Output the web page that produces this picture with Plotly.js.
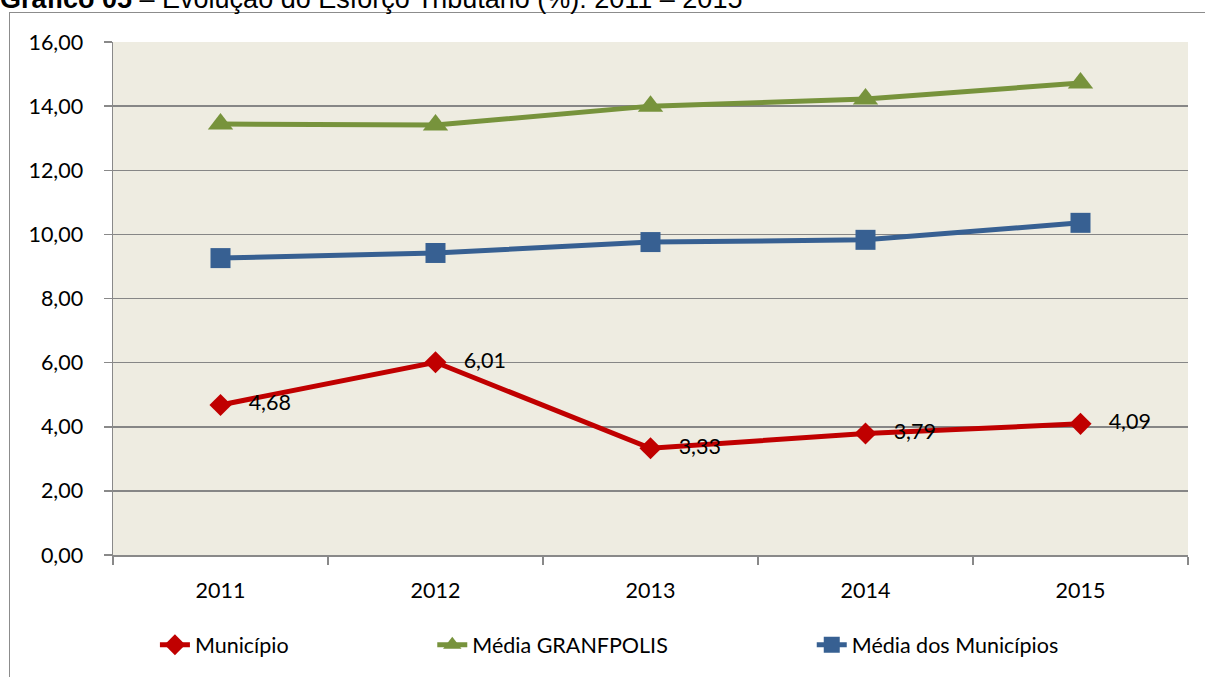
<!DOCTYPE html>
<html>
<head>
<meta charset="utf-8">
<script src="https://cdn.plot.ly/plotly-3.0.1.min.js"></script>
<style>
html,body{margin:0;padding:0;background:#fff;}
#wrap{position:relative;width:1205px;height:677px;overflow:hidden;}
#chart{position:absolute;left:0;top:0;width:1205px;height:677px;}
#frame{position:absolute;left:9px;top:12px;width:1220px;height:700px;border:1px solid #8c8c8c;pointer-events:none;}
</style>
</head>
<body>
<div id="wrap"><div id="frame"></div><div id="chart"></div></div>
<script>
const years = ['2011', '2012', '2013', '2014', '2015'];
const municipio = [4.68, 6.01, 3.33, 3.79, 4.09];
const mediaGranfpolis = [13.44, 13.41, 14.00, 14.22, 14.72];
const mediaMunicipios = [9.26, 9.42, 9.76, 9.83, 10.36];
const yTicks = [0, 2, 4, 6, 8, 10, 12, 14, 16];

const FONT = 'Lato, "Open Sans", sans-serif';
const FS = 21.5;

const traces = [
  {
    x: years, y: municipio, name: 'Município', type: 'scatter', mode: 'lines+markers+text',
    line: {color: '#C00000', width: 5},
    marker: {symbol: 'diamond', size: 17, color: '#C00000'},
    texttemplate: '   %{y:.2f}', textposition: 'middle right',
    textfont: {family: FONT, size: FS, color: '#000'},
    legend: 'legend', hoverinfo: 'skip', cliponaxis: false
  },
  {
    x: years, y: mediaGranfpolis, name: 'Média GRANFPOLIS', type: 'scatter', mode: 'lines+markers',
    line: {color: '#77933C', width: 5},
    marker: {symbol: 'triangle-up', size: 22, color: '#77933C'},
    legend: 'legend2', hoverinfo: 'skip'
  },
  {
    x: years, y: mediaMunicipios, name: 'Média dos Municípios', type: 'scatter', mode: 'lines+markers',
    line: {color: '#376092', width: 5},
    marker: {symbol: 'square', size: 20, color: '#376092'},
    legend: 'legend3', hoverinfo: 'skip'
  }
];

const legBase = {orientation: 'h', yanchor: 'middle', xanchor: 'left', y: -0.175,
  font: {family: FONT, size: FS, color: '#000'}, bgcolor: 'rgba(0,0,0,0)'};

const layout = {
  width: 1205, height: 677,
  margin: {l: 113, r: 17, t: 42, b: 122},
  paper_bgcolor: 'rgba(0,0,0,0)',
  plot_bgcolor: '#EEECE1',
  separators: ',.',
  showlegend: true,
  title: {
    text: '<b>Gráfico 05</b> – Evolução do Esforço Tributário (%): 2011 – 2015',
    font: {family: '"Liberation Sans", Arial, sans-serif', size: 27, color: '#000'},
    x: 0.0, xanchor: 'left', xref: 'container',
    y: 0.9885, yanchor: 'bottom', yref: 'container'
  },
  xaxis: {
    type: 'category', range: [-0.5, 4.5], tickson: 'boundaries', ticks: 'outside', ticklen: 8, tickwidth: 1.5,
    tickcolor: '#898989', showline: true, linecolor: '#898989', linewidth: 1.5,
    showgrid: false, ticklabelstandoff: 16,
    tickfont: {family: FONT, size: FS, color: '#000'}, fixedrange: true
  },
  yaxis: {
    range: [0, 16], tickvals: yTicks, tickformat: '.2f', ticks: 'outside', ticklen: 8,
    tickwidth: 1.5, tickcolor: '#898989', showline: true, linecolor: '#898989', linewidth: 1.5,
    showgrid: true, gridcolor: '#868686', gridwidth: 1.5, zeroline: false,
    ticklabelstandoff: 16,
    tickfont: {family: FONT, size: FS, color: '#000'}, fixedrange: true
  },
  legend: Object.assign({}, legBase, {x: 0.039}),
  legend2: Object.assign({}, legBase, {x: 0.297}),
  legend3: Object.assign({}, legBase, {x: 0.65})
};

Plotly.newPlot('chart', traces, layout, {displayModeBar: false, staticPlot: true});
</script>
</body>
</html>
